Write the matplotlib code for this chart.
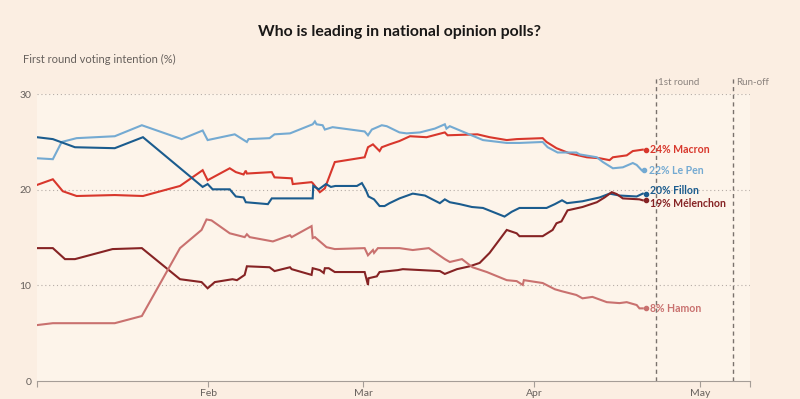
import numpy as np
import matplotlib
matplotlib.use("Agg")
import matplotlib.pyplot as plt

plt.rcParams["font.family"] = ["Lato", "DejaVu Sans"]

# days since 1 Jan 2017, first round voting intention (%)
macron_days = [0, 2.9, 4.7, 7.2, 14.1, 19.2, 25.9, 30, 30.9, 34.9, 36, 37.4, 37.8, 38, 42.5, 43, 46.1, 46.3,
               49.7, 49.9, 51.2, 52.1, 53.9, 59.3, 59.9, 60.8, 62, 62.4, 63.8, 65.6, 67.5, 70.5, 73.8, 74.3,
               79.7, 81.9, 85, 86.8, 91.5, 92.2, 94, 96.4, 99.5, 101.8, 103.6, 104.2, 106.7, 107.8, 109, 109.6]
macron = [20.5, 21.1, 19.85, 19.35, 19.45, 19.35, 20.4, 22.05, 21.0, 22.25, 21.85, 21.6, 22.0, 21.7, 21.85, 21.3, 21.2, 20.6,
          20.8, 20.7, 19.75, 20.15, 22.9, 23.4, 24.45, 24.75, 24.05, 24.45, 24.75, 25.1, 25.6, 25.5, 26.0, 25.7,
          25.8, 25.5, 25.2, 25.3, 25.4, 25.0, 24.35, 23.8, 23.4, 23.3, 23.1, 23.4, 23.6, 24.05, 24.15, 24.2]

lepen_days = [0, 2.9, 4.5, 7.2, 14.1, 19, 26.2, 30, 30.9, 35.8, 38, 38.3, 42.1, 43, 45.8, 49.9, 50.3, 50.6, 51.7,
              52.1, 53.5, 59.3, 59.9, 60.6, 62.4, 63.3, 65.6, 66.9, 69.3, 72, 73.8, 74.1, 74.7, 77.8, 80.7, 85,
              87.3, 91.5, 92.4, 94.2, 97.6, 98.2, 101.3, 102.4, 104.2, 106, 107.8, 108.5, 109.4]
lepen = [23.3, 23.2, 25.0, 25.4, 25.6, 26.75, 25.3, 26.2, 25.2, 25.8, 25.0, 25.3, 25.4, 25.8, 25.9, 26.85, 27.15, 26.85, 26.75,
         26.3, 26.55, 26.1, 25.7, 26.3, 26.75, 26.65, 26.0, 25.9, 26.0, 26.4, 26.85, 26.4, 26.65, 25.9, 25.2, 24.9,
         24.9, 25.0, 24.45, 23.9, 23.9, 23.7, 23.4, 22.9, 22.25, 22.35, 22.8, 22.6, 22.05]

fillon_days = [0, 2.9, 6.9, 14.1, 19.2, 30, 30.9, 31.8, 34.9, 36, 37.4, 37.8, 41.8, 42.5, 49.9, 50, 51, 52.3, 53.2,
               54, 57.9, 58.8, 59.5, 60, 61, 62, 62.9, 63.8, 65.6, 68, 70.2, 72.9, 73.8, 74.7, 76.5, 78.7, 80.7,
               84.6, 85.9, 87.3, 92.2, 93.7, 95, 95.9, 98.7, 101.8, 103.6, 105.4, 108.5, 109.6]
fillon = [25.5, 25.3, 24.45, 24.35, 25.5, 20.3, 20.6, 20.05, 20.05, 19.3, 19.2, 18.7, 18.5, 19.1, 19.1, 20.4, 20.05, 20.6, 20.3,
          20.4, 20.4, 20.7, 20.0, 19.3, 19.0, 18.3, 18.3, 18.6, 19.1, 19.6, 19.4, 18.6, 19.0, 18.7, 18.5, 18.2, 18.1,
          17.2, 17.7, 18.1, 18.1, 18.5, 18.9, 18.6, 18.8, 19.2, 19.6, 19.4, 19.3, 19.6]

melenchon_days = [0, 2.9, 5.1, 6.9, 13.7, 19, 25.9, 29.8, 30.9, 32.2, 35.4, 36.2, 37.6, 38, 42.1, 43, 45.8, 46.1,
                  49.7, 49.9, 51.2, 51.9, 52.1, 52.8, 53.9, 59.3, 59.9, 60, 61.5, 62, 65.3, 66.2, 72.9, 73.8, 76,
                  78.3, 80.1, 81.9, 85, 86.8, 87.3, 91.5, 93.3, 94, 94.9, 96, 98.7, 101.3, 102.7, 104, 104.9, 106,
                  109, 109.6]
melenchon = [13.9, 13.9, 12.75, 12.75, 13.8, 13.9, 10.65, 10.35, 9.7, 10.35, 10.65, 10.55, 11.1, 12.0, 11.9, 11.5, 11.9, 11.7,
             11.1, 11.8, 11.6, 11.3, 11.8, 11.8, 11.4, 11.4, 10.05, 10.75, 10.95, 11.4, 11.6, 11.7, 11.5, 11.2, 11.7,
             12.0, 12.35, 13.4, 15.8, 15.45, 15.15, 15.15, 15.8, 16.5, 16.7, 17.85, 18.2, 18.7, 19.2, 19.75, 19.55, 19.1,
             19.0, 18.9]

hamon_days = [0, 2.9, 14.1, 19, 25.9, 29.8, 30.7, 31.6, 34.9, 37.6, 38, 38.5, 42.7, 45.8, 46.1, 49.7, 49.9, 50.3,
              52.4, 53.9, 59.3, 59.9, 60.8, 61, 61.7, 65.6, 68, 70.9, 73.8, 74.7, 76.9, 78.8, 81.4, 85, 86.8,
              87.9, 88.1, 91.5, 93.7, 94.9, 97.6, 98.7, 100.5, 103.1, 105.4, 106.7, 108.5, 109, 109.6]
hamon = [5.85, 6.05, 6.05, 6.8, 13.9, 15.8, 16.9, 16.8, 15.45, 15.05, 15.35, 15.05, 14.6, 15.25, 15.05, 16.2, 14.95, 15.05,
         14.0, 13.8, 13.9, 13.15, 13.7, 13.4, 13.9, 13.9, 13.7, 13.9, 12.75, 12.45, 12.75, 11.9, 11.4, 10.55, 10.45,
         10.05, 10.55, 10.25, 9.6, 9.4, 9.0, 8.65, 8.8, 8.25, 8.15, 8.25, 7.95, 7.6, 7.6]

end_labels = ["24% Macron", "22% Le Pen", "20% Fillon", "19% Mélenchon", "8% Hamon"]
label_nudge = [0, 0, 2.0, -2.0, 0]   # points, keeps Fillon / Mélenchon labels apart
colors = ["#d8372c", "#74aad2", "#1b5c8e", "#862324", "#c9716f"]

base = np.datetime64("2017-01-01T00:00")
def to_dates(days):
    return base + (np.asarray(days) * 1440).astype(int).astype("timedelta64[m]")

series = [(macron_days, macron), (lepen_days, lepen), (fillon_days, fillon),
          (melenchon_days, melenchon), (hamon_days, hamon)]

fig = plt.figure(figsize=(8, 3.99), dpi=100, facecolor="#fbeee2")
ax = fig.add_axes([0.046, 0.045, 0.8915, 0.719])
ax.set_facecolor("#fdf4ea")

grey = "#66605c"
for (d, v), c, lab, nud in zip(series, colors, end_labels, label_nudge):
    x = to_dates(d)
    ax.plot(x, v, color=c, lw=1.5, solid_joinstyle="miter", zorder=3)
    last = to_dates([d[-1] + 0.5])[0]
    ax.plot([last], [v[-1]], "o", color=c, ms=3, zorder=4)
    ax.annotate(lab, (last, v[-1]), xytext=(3.5, nud), textcoords="offset points",
                va="center", ha="left", color=c, fontsize=7.6, fontweight="bold")

ax.set_ylim(0, 30)
ax.set_xlim(np.datetime64("2017-01-01"), np.datetime64("2017-05-10"))
ax.set_yticks([0, 10, 20, 30])
for yv in [10, 20, 30]:
    ax.axhline(yv, color="#b5aca6", lw=0.8, ls=(0, (1, 2.5)), zorder=1)

# election days
for day, txt in [("2017-04-23", "1st round"), ("2017-05-07", "Run-off")]:
    ax.axvline(np.datetime64(day), ymin=0, ymax=1.055, color="#7a726d", lw=1, ls=(0, (3, 2.5)),
               clip_on=False, zorder=2)
    ax.text(np.datetime64(day) + np.timedelta64(10, "h"), 31.2, txt, color="#8a827d",
            fontsize=7, va="center", ha="left")

for s in ["top", "right", "left"]:
    ax.spines[s].set_visible(False)
ax.spines["bottom"].set_color("#a59d97")

months = [np.datetime64("2017-02-01"), np.datetime64("2017-03-01"),
          np.datetime64("2017-04-01"), np.datetime64("2017-05-01")]
ax.set_xticks([np.datetime64("2017-01-01")] + months + [np.datetime64("2017-05-10")])
ax.set_xticklabels(["", "Feb", "Mar", "Apr", "May", ""])
ax.tick_params(axis="x", length=4, color="#a59d97", labelcolor=grey, labelsize=7.5, pad=2)
ax.tick_params(axis="y", length=0, labelcolor=grey, labelsize=7.5, pad=4)

fig.text(0.5, 0.92, "Who is leading in national opinion polls?", ha="center", va="center",
         fontsize=11.4, fontweight="bold", color="#1a1817")
fig.text(0.029, 0.852, "First round voting intention (%)", ha="left", va="center",
         fontsize=8, color=grey)

fig.savefig("out.png", dpi=100, facecolor=fig.get_facecolor())
